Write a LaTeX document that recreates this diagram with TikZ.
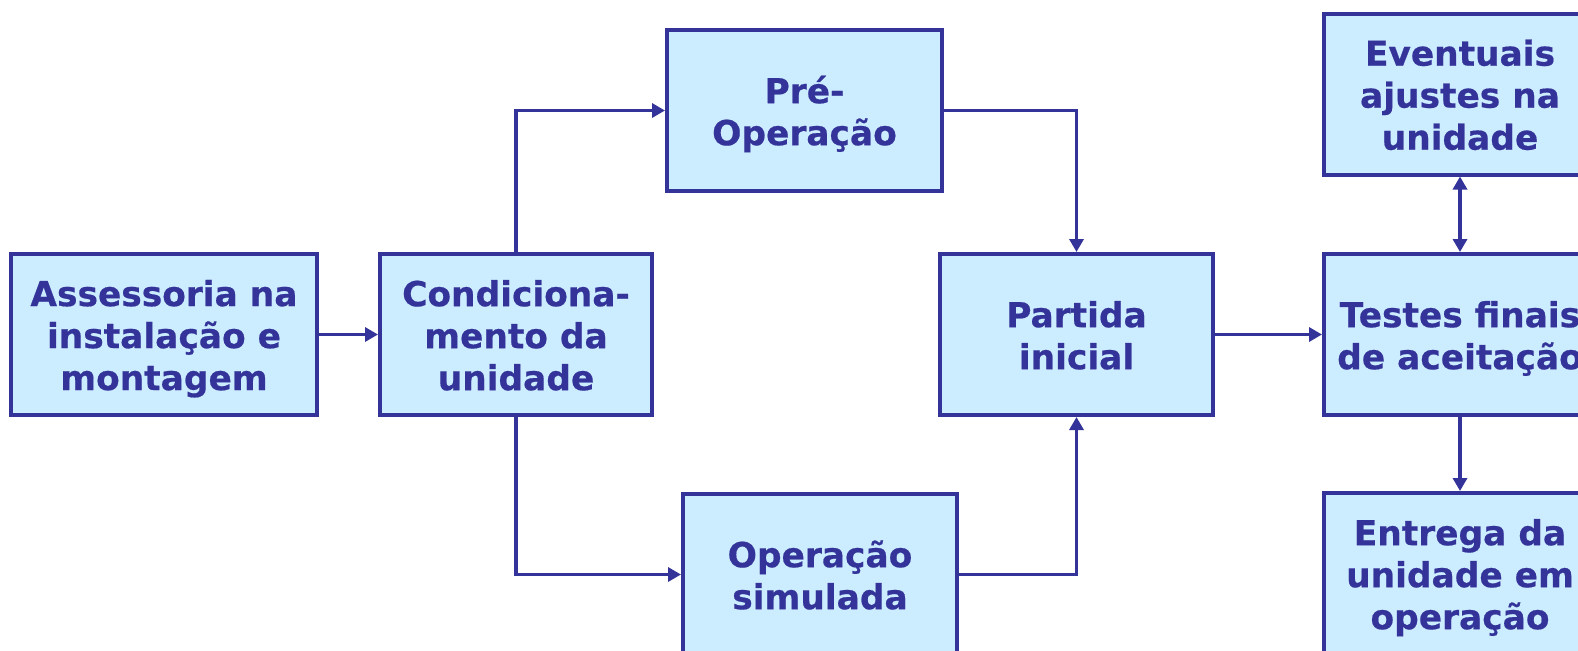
\documentclass[tikz,border=0pt]{standalone}
\usepackage{fontspec}
\setmainfont{DejaVu Sans}[BoldFeatures={FakeBold=0.5}]
\usetikzlibrary{arrows.meta}
\definecolor{edge}{HTML}{333399}
\definecolor{boxfill}{HTML}{CCECFF}
\newcommand\lnstrut{\rule[-0.21em]{0pt}{1.215em}}
\begin{document}
\begin{tikzpicture}[x=0.5pt,y=-0.5pt,
  box/.style={draw=edge,fill=boxfill,line width=2pt,align=center,
    minimum height=80.5pt,inner sep=0pt,text=edge,
    font=\bfseries\fontsize{17.2}{21}\selectfont},
  conn/.style={draw=edge,line width=1.8pt,-{Triangle[length=6.5pt,width=7pt]}},
  bconn/.style={draw=edge,line width=1.8pt,{Triangle[length=6.5pt,width=7pt]}-{Triangle[length=6.5pt,width=7pt]}}]
\clip (0,0) rectangle (1578,650);
\fill[white] (0,0) rectangle (1578,650);
\node[box,minimum width=153pt] (b1) at (164,334.5) {\lnstrut Assessoria na\\instalação e\\\lnstrut montagem};
\node[box,minimum width=136pt] (b2) at (516,334.5) {\lnstrut Condiciona-\\mento da\\\lnstrut unidade};
\node[box,minimum width=137.5pt] (pre) at (804.5,110.5) {\lnstrut Pré-\\\lnstrut Operação};
\node[box,minimum width=137pt] (sim) at (820,574.5) {\lnstrut Operação\\\lnstrut simulada};
\node[box,minimum width=136.5pt] (part) at (1076.5,334.5) {\lnstrut Partida\\\lnstrut inicial};
\node[box,minimum width=136pt] (ev) at (1460,94) {\lnstrut Eventuais\\ajustes na\\\lnstrut unidade};
\node[box,minimum width=136pt] (tt) at (1460,334.5) {\lnstrut Testes finais\\\lnstrut de aceitação};
\node[box,minimum width=136pt] (en) at (1460,573.5) {\lnstrut Entrega da\\unidade em\\\lnstrut operação};
\draw[conn] (b1) -- (b2);
\draw[conn] (b2.north) |- (pre.west);
\draw[conn] (b2.south) |- (sim.west);
\draw[conn] (pre.east) -| (part.north);
\draw[conn] (sim.east) -| (part.south);
\draw[conn] (part) -- (tt);
\draw[bconn] (ev.south) -- (tt.north);
\draw[conn] (tt.south) -- (en.north);
\end{tikzpicture}
\end{document}
